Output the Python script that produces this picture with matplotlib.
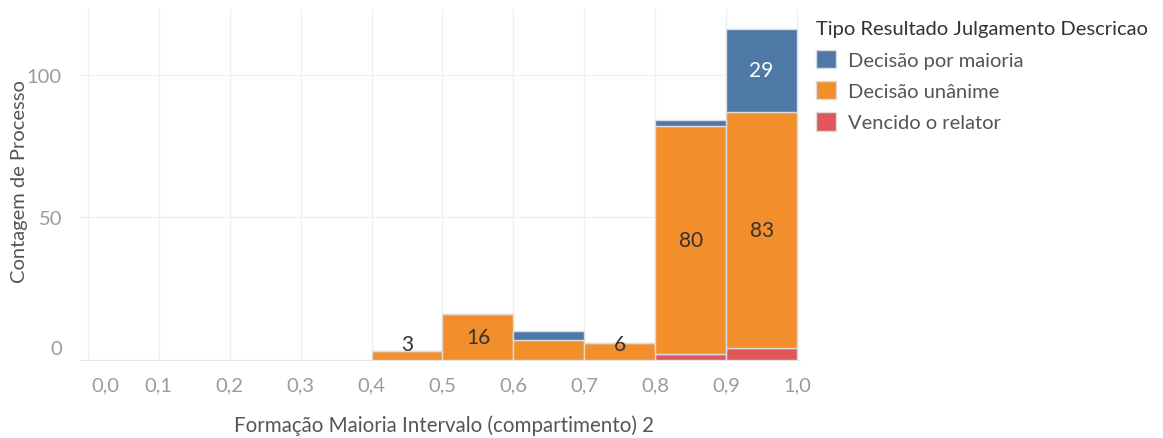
import matplotlib
matplotlib.use("Agg")
import matplotlib.pyplot as plt
from matplotlib.patches import Patch
from matplotlib.transforms import ScaledTranslation
import numpy as np

plt.rcParams['font.family'] = ['Lato', 'DejaVu Sans']

# bins (left edges) of the histogram, width 0.1
bin_left = [0.4, 0.5, 0.6, 0.7, 0.8, 0.9]
# stacked counts per category (bottom to top: relator, unanime, maioria)
vencido = [0, 0, 0, 0, 2, 4]
unanime = [3, 16, 7, 6, 80, 83]
maioria = [0, 0, 3, 0, 2, 29]

series = [
    ("Vencido o relator", vencido, "#e15759"),
    ("Decisão unânime", unanime, "#f28e2b"),
    ("Decisão por maioria", maioria, "#4e79a7"),
]
x_ticks = [0.0, 0.1, 0.2, 0.3, 0.4, 0.5, 0.6, 0.7, 0.8, 0.9, 1.0]
y_ticks = [0, 50, 100]

fig = plt.figure(figsize=(11.63, 4.39), dpi=100)
ax = fig.add_axes([0.0688, 0.178, 0.619, 0.799])

bottom = np.zeros(len(bin_left))
nseg = [sum(1 for s in series if s[1][i] > 0) for i in range(len(bin_left))]
for name, vals, col in series:
    vals = np.array(vals)
    ax.bar(bin_left, vals, width=0.1, bottom=bottom, align="edge",
           color=col, edgecolor="#dcdcdc", linewidth=1, zorder=3)
    for i, v in enumerate(vals):
        if v == 0:
            continue
        if v >= 10 or nseg[i] == 1:
            yc = max(bottom[i] + v / 2, 5.5)
            tc = "white" if col == "#4e79a7" else "#333333"
            ax.text(bin_left[i] + 0.05, yc, str(v), ha="center", va="center",
                    fontsize=15, color=tc, zorder=4)
    bottom += vals

ax.set_xlim(-0.011, 1.004)
ax.set_ylim(0, 123)
ax.set_xticks(x_ticks)
ax.set_xticklabels([f"{t:.1f}".replace(".", ",") for t in x_ticks])
ax.set_yticks(y_ticks)
ax.tick_params(axis="both", length=0, colors="#9a9aa6", labelsize=14.5)
ax.tick_params(axis="x", pad=12)
ax.tick_params(axis="y", pad=13)
ax.grid(True, color="#f0f0f0", linewidth=1, zorder=0)
for s in ["top", "right", "left"]:
    ax.spines[s].set_visible(False)
ax.spines["bottom"].set_color("#e6e6e6")

# Tableau nudges the first tick labels away from the corner
fig.canvas.draw()
ax.get_yticklabels()[0].set_transform(
    ax.get_yticklabels()[0].get_transform() + ScaledTranslation(0, 13 / 100, fig.dpi_scale_trans))
ax.get_xticklabels()[0].set_transform(
    ax.get_xticklabels()[0].get_transform() + ScaledTranslation(18 / 100, 0, fig.dpi_scale_trans))

ax.set_ylabel("Contagem de Processo", fontsize=14.5, color="#555555")
ax.yaxis.set_label_coords(-0.072, 0.51)
ax.set_xlabel("Formação Maioria Intervalo (compartimento) 2", fontsize=14.8,
              color="#555555")
ax.xaxis.set_label_coords(0.505, -0.155)

handles = [Patch(facecolor=c, edgecolor="#dcdcdc", label=n) for n, _, c in reversed(series)]
leg = fig.legend(handles=handles, loc="upper left", bbox_to_anchor=(0.686, 0.993),
                 title="Tipo Resultado Julgamento Descricao", frameon=False,
                 fontsize=14.5, title_fontsize=14.5, handlelength=1.0, handleheight=1.0,
                 handletextpad=0.6, labelspacing=0.62, alignment="left")
for t in leg.get_texts():
    t.set_color("#555555")
leg.get_title().set_color("#333333")

fig.savefig("out.png", dpi=100)
